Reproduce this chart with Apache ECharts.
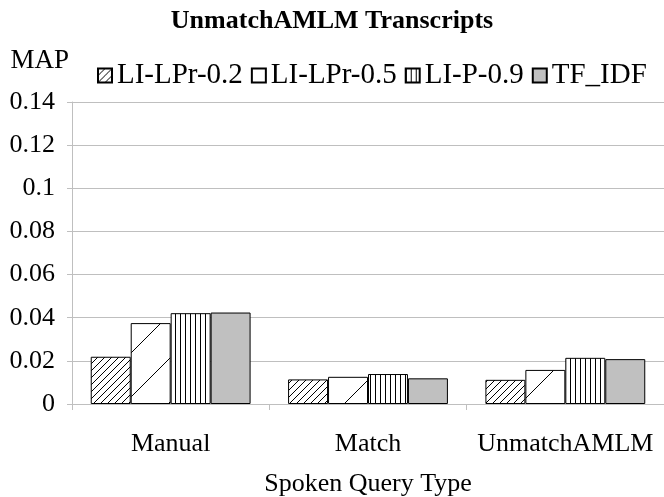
<!DOCTYPE html>
<html><head><meta charset="utf-8">
<script src="https://cdn.jsdelivr.net/npm/echarts@6/dist/echarts.min.js"></script>
<style>html,body{margin:0;padding:0;background:#fff}#c{width:664px;height:497px}</style>
</head><body><div id="c"></div>
<script>
const categories = ['Manual', 'Match', 'UnmatchAMLM'];
const seriesNames = ['LI-LPr-0.2', 'LI-LPr-0.5', 'LI-P-0.9', 'TF_IDF'];
const liLPr02 = [0.0219, 0.0114, 0.0112];
const liLPr05 = [0.0375, 0.0126, 0.0158];
const liP09 = [0.0421, 0.0139, 0.0214];
const tfIdf = [0.0424, 0.0119, 0.0208];
const yTicks = [0, 0.02, 0.04, 0.06, 0.08, 0.1, 0.12, 0.14];

function makePattern(kind) {
  const c = document.createElement('canvas');
  let w, h;
  if (kind === 'hatch') { w = 7; h = 7; }
  else if (kind === 'sparse') { w = 44; h = 44; }
  else { w = 5; h = 5; }
  c.width = w; c.height = h;
  const g = c.getContext('2d');
  g.fillStyle = '#fff'; g.fillRect(0, 0, w, h);
  g.strokeStyle = '#000'; g.lineWidth = 1;
  g.beginPath();
  if (kind === 'vert') {
    g.moveTo(0.5, 0); g.lineTo(0.5, h);
  } else {
    g.moveTo(-1, h + 1); g.lineTo(w + 1, -1);
    g.moveTo(-1 - w, h + 1); g.lineTo(1, -1);
    g.moveTo(w - 1, h + 1); g.lineTo(2 * w + 1, -1);
  }
  g.stroke();
  return { image: c, repeat: 'repeat' };
}
const fills = [makePattern('hatch'), makePattern('sparse'), makePattern('vert'), '#c0c0c0'];
const dataSets = [liLPr02, liLPr05, liP09, tfIdf];
const font = 'Liberation Serif';
const fs = 26;

const chart = echarts.init(document.getElementById('c'), null, { renderer: 'canvas' });
chart.setOption({
  animation: false,
  backgroundColor: '#fff',
  title: {
    text: 'UnmatchAMLM Transcripts', left: 'center', top: 3,
    textStyle: { fontFamily: font, fontWeight: 'bold', fontSize: fs, color: '#000' }
  },
  legend: {
    data: seriesNames, left: 92, top: 56, icon: 'rect', itemWidth: 14, itemHeight: 14, itemGap: 8,
    textStyle: { fontFamily: font, fontSize: 29, color: '#000' }
  },
  grid: { left: 72, right: 0, top: 102, bottom: 93, outerBoundsMode: 'none', containLabel: false },
  xAxis: {
    type: 'category', data: categories,
    name: 'Spoken Query Type', nameLocation: 'middle', nameGap: 67,
    nameTextStyle: { fontFamily: font, fontSize: fs, color: '#000' },
    axisLine: { lineStyle: { color: '#bfbfbf' } },
    axisTick: { show: true, length: 6, lineStyle: { color: '#bfbfbf' } },
    axisLabel: { fontFamily: font, fontSize: fs, color: '#000', margin: 27, interval: 0, hideOverlap: false }
  },
  yAxis: {
    type: 'value', min: 0, max: 0.14, interval: 0.02,
    name: 'MAP', nameLocation: 'end', nameGap: 28,
    nameTextStyle: { fontFamily: font, fontSize: 27, color: '#000', align: 'right', padding: [0, 3, 0, 0] },
    axisLine: { show: true, lineStyle: { color: '#bfbfbf' } },
    axisTick: { show: true, length: 5, lineStyle: { color: '#bfbfbf' } },
    splitLine: { lineStyle: { color: '#bfbfbf' } },
    axisLabel: {
      fontFamily: font, fontSize: fs, color: '#000', margin: 17,
      formatter: v => String(parseFloat(v.toFixed(2)))
    }
  },
  series: seriesNames.map((n, i) => ({
    name: n, type: 'bar', data: dataSets[i],
    barGap: '0%', barCategoryGap: '19%',
    itemStyle: { color: fills[i], borderColor: '#000', borderWidth: 1 }
  }))
});
</script></body></html>
